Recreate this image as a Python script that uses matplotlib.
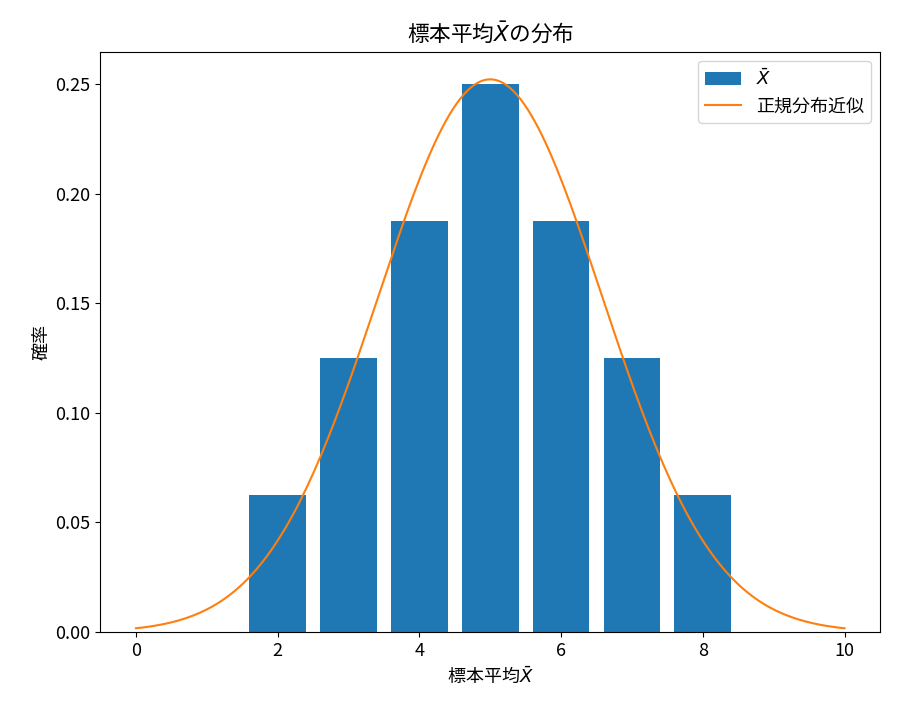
import numpy as np
import matplotlib
matplotlib.use('Agg')
from matplotlib import pyplot as plt

plt.rcParams['font.family'] = ['Noto Sans CJK JP', 'DejaVu Sans']
plt.rcParams['font.size'] = 13
plt.rcParams['axes.unicode_minus'] = False

# distribution of sample mean
x_vals = [2, 3, 4, 5, 6, 7, 8]
probs = [0.0625, 0.125, 0.1875, 0.25, 0.1875, 0.125, 0.0625]

# normal approximation parameters
mu = 5.0
var = 2.5

xs = np.linspace(0, 10, 200)
pdf = np.exp(-(xs - mu) ** 2 / (2 * var)) / np.sqrt(2 * np.pi * var)

fig = plt.figure(figsize=(8.97, 7.19), dpi=100)
ax = fig.add_axes([0.112, 0.121, 0.869, 0.807])
bars = ax.bar(x_vals, probs, width=0.8, color='C0', label=r'$\bar{X}$')
line, = ax.plot(xs, pdf, color='C1', label='正規分布近似')
ax.set_title(r'標本平均$\bar{X}$の分布', pad=8)
ax.set_xlabel(r'標本平均$\bar{X}$')
ax.set_ylabel('確率')
ax.set_xticks([0, 2, 4, 6, 8, 10])
ax.legend(handles=[bars, line], loc='upper right')

fig.savefig('out.png')
